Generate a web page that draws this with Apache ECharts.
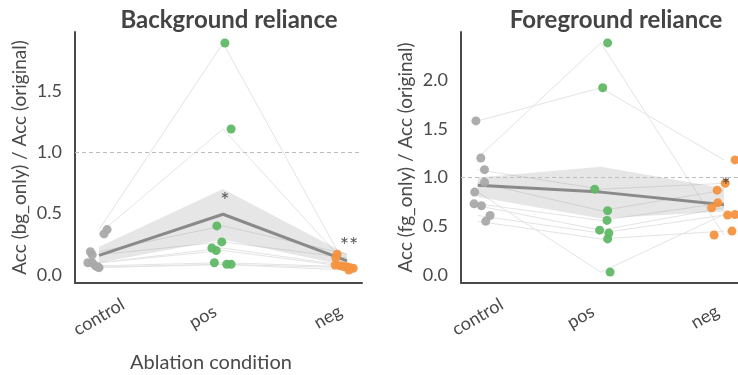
<!DOCTYPE html>
<html>
<head>
<meta charset="utf-8">
<script src="https://cdn.jsdelivr.net/npm/echarts@6/dist/echarts.min.js"></script>
<style>
html,body{margin:0;padding:0;background:#fff;}
#chart{width:738px;height:375px;}
</style>
</head>
<body>
<div id="chart"></div>
<script>
// ---------- DATA ----------
const categories = ['control', 'pos', 'neg'];
const yTicks = [0, 0.5, 1.0, 1.5, 2.0];

// Background reliance (left) – one entry per subject
const bgControl = [0.37, 0.335, 0.19, 0.165, 0.10, 0.10, 0.075, 0.065, 0.06];
const bgPos     = [1.89, 1.19, 0.40, 0.27, 0.22, 0.20, 0.10, 0.087, 0.087];
const bgNeg     = [0.055, 0.082, 0.17, 0.14, 0.076, 0.068, 0.068, 0.06, 0.04];
const bgJitterControl = [0.065, 0.04, -0.07, -0.055, -0.09, -0.055, -0.03, -0.01, 0.0];
const bgJitterPos     = [0.015, 0.065, -0.05, -0.01, -0.09, -0.055, -0.07, 0.03, 0.065];
const bgJitterNeg     = [0.05, -0.095, -0.08, -0.09, -0.055, -0.025, 0.0, 0.025, 0.015];
const bgMean   = [0.16, 0.495, 0.115];
const bgCiLow  = [0.10, 0.29, 0.075];
const bgCiHigh = [0.23, 0.70, 0.17];
const bgStars  = [[1.016, 0.645, '*'], [2.016, 0.28, '**']];

// Foreground reliance (right)
const fgControl = [1.58, 1.20, 1.08, 0.95, 0.85, 0.73, 0.71, 0.61, 0.55];
const fgPos     = [1.92, 2.38, 0.88, 0.66, 0.03, 0.56, 0.46, 0.43, 0.37];
const fgNeg     = [1.18, 0.41, 0.94, 0.87, 0.62, 0.74, 0.69, 0.615, 0.45];
const fgJitterControl = [-0.015, 0.025, 0.055, 0.055, -0.025, -0.03, 0.03, 0.1, 0.065];
const fgJitterPos     = [0.015, 0.055, -0.05, 0.055, 0.075, 0.05, -0.01, 0.065, 0.055];
const fgJitterNeg     = [0.09, -0.08, 0.01, -0.055, 0.09, -0.05, -0.1, 0.03, 0.065];
const fgMean   = [0.92, 0.85, 0.72];
const fgCiLow  = [0.80, 0.58, 0.65];
const fgCiHigh = [1.00, 1.11, 0.89];
const fgStars  = [[2.016, 0.96, '*']];

// ---------- STYLE ----------
const FONT = 'Lato, "Open Sans", sans-serif';
const TXT = '#4a4a4a';
const COL_CONTROL = '#a9a9a9';
const COL_POS = '#5fb865';
const COL_NEG = '#f4923f';

function buildPanel(idx, ctrl, pos, neg, jc, jp, jn, mean, lo, hi, stars) {
  const s = [];
  // subject lines
  for (let i = 0; i < ctrl.length; i++) {
    s.push({
      type: 'line', xAxisIndex: idx, yAxisIndex: idx, silent: true, z: 1,
      symbol: 'none', lineStyle: {color: '#e4e4e4', width: 1},
      data: [[0, ctrl[i]], [1, pos[i]], [2, neg[i]]]
    });
  }
  // CI band
  const band = mean.map((m, k) => [k, lo[k], hi[k]]);
  s.push({
    type: 'custom', xAxisIndex: idx, yAxisIndex: idx, silent: true, z: 2,
    data: band,
    renderItem: function (params, api) {
      if (params.dataIndex !== 0) return null;
      const top = band.map(d => api.coord([d[0], d[2]]));
      const bot = band.map(d => api.coord([d[0], d[1]])).reverse();
      return {type: 'polygon', shape: {points: top.concat(bot)},
              style: {fill: 'rgba(150,150,150,0.24)'}};
    }
  });
  // mean line
  s.push({
    type: 'line', xAxisIndex: idx, yAxisIndex: idx, silent: true, z: 3,
    symbol: 'none', lineStyle: {color: '#8a8a8a', width: 3},
    data: mean.map((m, k) => [k, m]),
    markLine: {
      silent: true, symbol: 'none', label: {show: false},
      lineStyle: {color: '#bdbdbd', type: [4, 3], width: 1},
      data: [{yAxis: 1.0}]
    }
  });
  // points
  const groups = [[ctrl, jc, 0, COL_CONTROL], [pos, jp, 1, COL_POS], [neg, jn, 2, COL_NEG]];
  groups.forEach(g => {
    s.push({
      type: 'scatter', xAxisIndex: idx, yAxisIndex: idx, silent: true, z: 4,
      symbolSize: 9, itemStyle: {color: g[3], opacity: 0.95},
      data: g[0].map((v, i) => [g[2] + g[1][i], v])
    });
  });
  // significance stars
  s.push({
    type: 'scatter', xAxisIndex: idx, yAxisIndex: idx, silent: true, z: 5,
    symbolSize: 0,
    data: stars.map(d => ({value: [d[0], d[1]], name: d[2]})),
    label: {show: true, position: 'inside', formatter: p => p.name,
            color: '#333', fontSize: 22, fontFamily: FONT, offset: [0, 5]}
  });
  return s;
}

const xLabelRich = {
  c: {fontSize: 18, color: TXT, fontFamily: FONT},
  p: {fontSize: 18, color: TXT, fontFamily: FONT, padding: [0, 35, 20, 0]},
  n: {fontSize: 18, color: TXT, fontFamily: FONT, padding: [0, 33, 19, 0]}
};
function xAxisCfg(gi, min, max) {
  return {
    type: 'value', gridIndex: gi, min: min, max: max,
    axisLine: {show: true, onZero: false, lineStyle: {color: '#4a4a4a', width: 2}},
    axisTick: {show: false}, splitLine: {show: false},
    axisLabel: {
      customValues: [0, 1, 2], rotate: 30, align: 'center', verticalAlign: 'middle',
      margin: 34, rich: xLabelRich,
      formatter: v => {
        const k = Math.round(v);
        return '{' + ['c', 'p', 'n'][k] + '|' + categories[k] + '}';
      }
    }
  };
}
function yAxisCfg(gi, min, max, name, ticks) {
  return {
    type: 'value', gridIndex: gi, min: min, max: max,
    name: name, nameLocation: 'middle', nameGap: 46,
    nameTextStyle: {fontSize: 19, color: TXT, fontFamily: FONT},
    axisLine: {show: true, onZero: false, lineStyle: {color: '#4a4a4a', width: 2}},
    axisTick: {show: false}, splitLine: {show: false},
    axisLabel: {customValues: ticks, margin: 13, fontSize: 18, color: TXT, fontFamily: FONT,
                formatter: v => v.toFixed(1)}
  };
}

const chart = echarts.init(document.getElementById('chart'), null, {renderer: 'canvas'});
chart.setOption({
  backgroundColor: '#ffffff',
  animation: false,
  title: [
    {text: 'Background reliance', left: 224, top: 3, textAlign: 'center',
     textStyle: {fontSize: 24, fontWeight: 'bold', color: '#444', fontFamily: FONT}},
    {text: 'Foreground reliance', left: 611, top: 3, textAlign: 'center',
     textStyle: {fontSize: 24, fontWeight: 'bold', color: '#444', fontFamily: FONT}},
    {text: 'Ablation condition', left: 206, top: 348, textAlign: 'center',
     textStyle: {fontSize: 20, fontWeight: 'normal', color: TXT, fontFamily: FONT}}
  ],
  grid: [
    {left: 75, top: 32, width: 287, height: 251},
    {left: 461, top: 32, width: 277, height: 251}
  ],
  xAxis: [xAxisCfg(0, -0.194, 2.121), xAxisCfg(1, -0.136, 2.114)],
  yAxis: [
    yAxisCfg(0, -0.065, 1.98, 'Acc (bg_only) / Acc (original)', [0, 0.5, 1.0, 1.5]),
    yAxisCfg(1, -0.082, 2.492, 'Acc (fg_only) / Acc (original)', yTicks)
  ],
  series: [].concat(
    buildPanel(0, bgControl, bgPos, bgNeg, bgJitterControl, bgJitterPos, bgJitterNeg,
               bgMean, bgCiLow, bgCiHigh, bgStars),
    buildPanel(1, fgControl, fgPos, fgNeg, fgJitterControl, fgJitterPos, fgJitterNeg,
               fgMean, fgCiLow, fgCiHigh, fgStars)
  )
});
</script>
</body>
</html>
